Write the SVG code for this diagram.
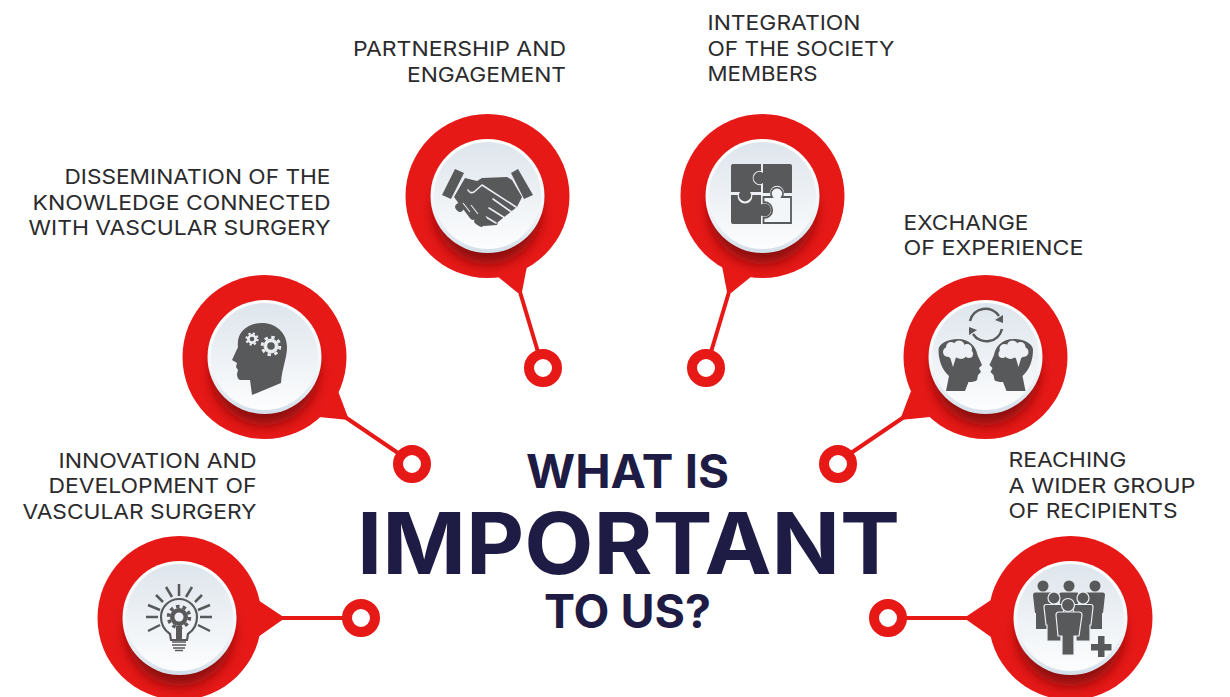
<svg xmlns="http://www.w3.org/2000/svg" xmlns:xlink="http://www.w3.org/1999/xlink" width="1230" height="697" viewBox="0 0 1230 697">
<style>
text{font-family:Inter,"Liberation Sans",sans-serif}
.l{font-size:20.5px;fill:#2b2b2d}
.t{fill:#1e1b45;font-weight:700;font-size:46px}
.tail{fill:#e61917}
.wire{stroke:#e61917;stroke-width:4;fill:none}
.ring{fill:#fff;stroke:#e61917;stroke-width:10}
.g{fill:#58595b}
.gs{stroke:#58595b;fill:none}
.sep{stroke:#e9eef3;fill:none;stroke-linecap:round;stroke-linejoin:round}
</style>
<defs>
<linearGradient id="rim" x1="0" y1="0" x2="0" y2="1"><stop offset="0" stop-color="#fff"/><stop offset=".6" stop-color="#f3f6f9"/><stop offset="1" stop-color="#d3dfe9"/></linearGradient>
<linearGradient id="face" x1="0" y1="0" x2="0" y2="1"><stop offset="0" stop-color="#dee5ec"/><stop offset="1" stop-color="#fcfdfe"/></linearGradient>
<filter id="blur" x="-40%" y="-40%" width="180%" height="180%"><feGaussianBlur stdDeviation="6.500"/></filter>
<clipPath id="clip"><circle r="82"/></clipPath>
<g id="pin">
<circle r="82" fill="#e61917"/>
<g clip-path="url(#clip)"><circle cy="15" r="53" fill="#8a0e0f" filter="url(#blur)"/></g>
<circle r="57" fill="url(#rim)"/>
<circle cy="-.5" r="53.5" fill="url(#face)"/>
</g>
<path id="p" d="M-10 1Q-10-1.500-8-1.500H8Q10-1.500 10 1L8 19H7V35H-7V19H-8Z"/>
</defs>

<g id="connectors">
<path class="tail" d="M497 276L518 293L522 292L527 266Z"/><path class="wire" d="M520 292L538 352"/>
<path class="tail" d="M752 276L731 293L727 292L722 266Z"/><path class="wire" d="M729 292L711 352"/>
<path class="tail" d="M338 391L349 420L319 417Z"/><path class="wire" d="M345 417L398 453"/>
<path class="tail" d="M911 391L900 420L930 417Z"/><path class="wire" d="M904 417L851 453"/>
<path class="tail" d="M258 600L285 618L258 637Z"/><path class="wire" d="M280 618H345"/>
<path class="tail" d="M991 600L964 618L991 637Z"/><path class="wire" d="M969 618H904"/>
<circle class="ring" cx="543" cy="368" r="14"/>
<circle class="ring" cx="706" cy="368" r="14"/>
<circle class="ring" cx="412" cy="464" r="14"/>
<circle class="ring" cx="838" cy="464" r="14"/>
<circle class="ring" cx="361" cy="618" r="14"/>
<circle class="ring" cx="888" cy="618" r="14"/>
</g>

<g id="node-partnership">
<use xlink:href="#pin" href="#pin" x="487.500" y="196"/>
<path class="g" d="M455 169L464 173L451 199L442 195ZM518 169L533 195L524 199L511 173Z"/>
<path class="g" d="M465 178L477 181L482 178L507 177L512 180L522 197L517 207L498 222L497 225L484 226L478 220L462 208L454 197Z"/>
<path class="sep" stroke-width="1.600" d="M468 190Q470 194 474 192L482 185L516 207M493 199L513 213M489 208L505 218M486 217L496 223"/>
<g stroke="#58595b" stroke-width="7.500" stroke-linecap="round"><path d="M459 207L460 208M467 208L473 216M475 209L483 219M478 221L481 223"/></g>
<g stroke="#eaeff3" stroke-width="1.100" fill="none"><path d="M463 203L470 212M471 205L478 214"/></g>
</g>

<g id="node-integration">
<use xlink:href="#pin" href="#pin" x="762.500" y="196"/>
<path class="g" d="M733 164H761V170.900A7.200 7.200 0 1 0 761 185.100V192H750A6 6 0 1 1 740 192H731V166Q731 164 733 164Z"/>
<path class="g" d="M763 164H790Q792 164 792 166V193H784.200A7.200 7.200 0 0 0 769.800 193H763V183A6 6 0 1 1 763 173Z"/>
<path class="g" d="M731 195H737.800A7.300 7.300 0 1 0 752.200 195H761V204.500A6.500 6.500 0 1 1 761 215.500V224H733Q731 224 731 222Z"/>
<path d="M763.500 197H772A6 6 0 1 1 782 197H791V223H763.500V217.740A7.800 7.800 0 1 0 763.500 202.260Z" fill="#f3f6f9" stroke="#58595b" stroke-width="1.800"/>
</g>

<g id="node-dissemination">
<use xlink:href="#pin" href="#pin" x="264.500" y="357"/>
<path class="g" d="M262 323C276 323 287 333 287 347C287 358 282 368 281 383L252 395L250 380H240Q237 379 237 374L238 370L236 367L237 363L232 360L238 347C236 332 248 323 262 323Z"/>
<g fill="#e9eef3" stroke="#e9eef3">
<circle cx="252" cy="339" r="4.500"/><circle cx="252" cy="339" r="5.500" fill="none" stroke-width="2.200" stroke-dasharray="2.200 2.120"/>
<circle cx="271" cy="346" r="7"/><circle cx="271" cy="346" r="8.800" fill="none" stroke-width="3" stroke-dasharray="3.400 3.510"/>
</g>
<circle class="g" cx="252" cy="339" r="2.300"/><circle class="g" cx="271" cy="346" r="3.800"/>
</g>

<g id="node-exchange">
<use xlink:href="#pin" href="#pin" x="985.500" y="357"/>
<g id="brain-head">
<path class="g" d="M946 391L949 376C942 370 938.500 360 938.500 350C938.500 344 947 339 958 339C969 339 976 346 977.500 355L982 365L979 368L981 372L978 375L977 380Q975 382 968.500 382L965 391Z"/>
<g fill="#edf1f5"><circle cx="948" cy="352" r="5"/><circle cx="951" cy="347" r="5"/><circle cx="959" cy="346" r="5.500"/><circle cx="967" cy="349" r="5"/><circle cx="969" cy="354" r="4"/><circle cx="961" cy="353" r="6"/><circle cx="953" cy="354" r="5"/><path d="M950 357L953 367L956 357Z"/></g>
</g>
<use xlink:href="#brain-head" href="#brain-head" transform="translate(1971.500 0) scale(-1 1)"/>
<path class="gs" stroke-width="2.500" d="M970 321A16 16 0 0 1 999 316"/><path class="gs" stroke-width="2.500" d="M1002 329A16 16 0 0 1 973 334"/>
<path class="g" d="M1003 315L1003 323L995 320ZM969 335L969 327L977 330Z"/>
</g>

<g id="node-innovation">
<use xlink:href="#pin" href="#pin" x="179.500" y="618"/>
<path class="gs" stroke-width="2.200" d="M170 634C164 630 161 624 161 617A18 18 0 0 1 197 617C197 624 194 630 188 634L187 640H171Z"/>
<circle class="g" cx="179" cy="617" r="9"/><circle cx="179" cy="617" r="10.500" fill="none" stroke="#58595b" stroke-width="3.500" stroke-dasharray="3.500 3.100"/><circle cx="179" cy="617" r="4.500" fill="#eef2f6"/>
<path class="g" d="M176 626H182V640H176Z"/>
<path class="gs" stroke-width="1.500" d="M172 642H186M172 645H186M173 648H185M175 650.500H183"/>
<path class="gs" stroke-width="2.500" d="M179 584V596M166 587L172 597M156 595L163 602M148 605L160 610M146 617H158M148 631L160 625M192 587L186 597M202 595L195 602M210 605L198 610M212 617H200M210 631L198 625"/>
</g>

<g id="node-reaching">
<use xlink:href="#pin" href="#pin" x="1070.500" y="618"/>
<g class="g">
<circle cx="1043" cy="586" r="5.500"/><circle cx="1069" cy="586" r="5.500"/><circle cx="1095" cy="586" r="5.500"/>
<use xlink:href="#p" href="#p" x="1043" y="594"/><use xlink:href="#p" href="#p" x="1069" y="594"/><use xlink:href="#p" href="#p" x="1095" y="594"/>
<g stroke="#e9eef3" stroke-width="1.200">
<circle cx="1054" cy="598" r="6"/><circle cx="1083" cy="598" r="6"/>
<use xlink:href="#p" href="#p" x="1054" y="606"/><use xlink:href="#p" href="#p" x="1083" y="606"/>
<circle cx="1068" cy="605" r="6.500"/>
<path d="M1059 612H1079Q1082 612 1082 615L1079 636H1074V655H1062V636H1058L1056 615Q1056 612 1059 612Z"/>
</g>
<path d="M1098 636H1104.500V644H1111.500V650.500H1104.500V657H1098V650.500H1091V644H1098Z"/>
</g>
</g>

<g id="title">
<text class="t" x="526" y="488" textLength="203" lengthAdjust="spacingAndGlyphs">WHAT IS</text>
<text class="t" x="357" y="574" textLength="543" lengthAdjust="spacingAndGlyphs" style="font-size:85px">IMPORTANT</text>
<text class="t" x="544" y="628" textLength="167" lengthAdjust="spacingAndGlyphs">TO US?</text>
</g>
<g id="labels">
<text class="l" x="353" y="56" textLength="213" lengthAdjust="spacingAndGlyphs">PARTNERSHIP AND</text>
<text class="l" x="407" y="82" textLength="159" lengthAdjust="spacingAndGlyphs">ENGAGEMENT</text>
<text class="l" x="707.500" y="30" textLength="153" lengthAdjust="spacingAndGlyphs">INTEGRATION</text>
<text class="l" x="707.500" y="56" textLength="187" lengthAdjust="spacingAndGlyphs">OF THE SOCIETY</text>
<text class="l" x="707.500" y="81" textLength="110" lengthAdjust="spacingAndGlyphs">MEMBERS</text>
<text class="l" x="64.500" y="184" textLength="266" lengthAdjust="spacingAndGlyphs">DISSEMINATION OF THE</text>
<text class="l" x="32.500" y="210" textLength="298" lengthAdjust="spacingAndGlyphs">KNOWLEDGE CONNECTED</text>
<text class="l" x="28.500" y="235" textLength="302" lengthAdjust="spacingAndGlyphs">WITH VASCULAR SURGERY</text>
<text class="l" x="903.500" y="230" textLength="125" lengthAdjust="spacingAndGlyphs">EXCHANGE</text>
<text class="l" x="903.500" y="255" textLength="180" lengthAdjust="spacingAndGlyphs">OF EXPERIENCE</text>
<text class="l" x="58.500" y="468" textLength="198" lengthAdjust="spacingAndGlyphs">INNOVATION AND</text>
<text class="l" x="48.500" y="493" textLength="208" lengthAdjust="spacingAndGlyphs">DEVELOPMENT OF</text>
<text class="l" x="22.500" y="519" textLength="234" lengthAdjust="spacingAndGlyphs">VASCULAR SURGERY</text>
<text class="l" x="1008.500" y="467" textLength="118" lengthAdjust="spacingAndGlyphs">REACHING</text>
<text class="l" x="1008.500" y="493" textLength="187" lengthAdjust="spacingAndGlyphs">A WIDER GROUP</text>
<text class="l" x="1008.500" y="518" textLength="169" lengthAdjust="spacingAndGlyphs">OF RECIPIENTS</text>
</g>
</svg>
